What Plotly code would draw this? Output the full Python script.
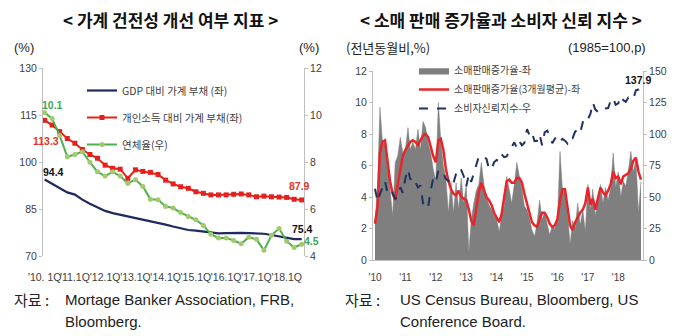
import plotly.graph_objects as go
import pandas as pd

W, H = 680, 336

# ---------------- data ----------------
quarters = pd.date_range('2010-01-01', periods=35, freq='QS')
months = pd.date_range('2010-01-01', periods=106, freq='MS')

gdp_debt = [94.4, 93.0, 91.6, 90.3, 89.6, 88.0, 86.7, 85.5, 84.4, 83.7, 83.2, 82.6,
            82.1, 81.7, 81.0, 80.5, 80.0, 79.4, 78.8, 78.3, 78.1, 77.8, 77.5, 77.2,
            77.3, 77.4, 77.4, 77.3, 77.2, 77.1, 76.7, 76.2, 75.8, 75.4, 75.4]

income_debt = [113.3, 111.8, 109.7, 107.5, 106.0, 104.0, 102.4, 101.2, 99.0, 98.0,
               97.7, 94.8, 97.5, 97.0, 96.7, 96.0, 94.2, 93.0, 92.1, 91.6, 90.5,
               90.0, 89.5, 89.5, 89.5, 89.7, 89.8, 89.5, 88.9, 89.1, 88.9, 88.8,
               88.7, 88.1, 87.9]

delinquency = [10.1, 9.85, 9.13, 8.22, 8.32, 8.44, 7.99, 7.58, 7.40, 7.58, 7.40,
               7.09, 7.25, 6.96, 6.41, 6.39, 6.11, 6.04, 5.85, 5.68, 5.54, 5.30,
               4.93, 4.77, 4.77, 4.66, 4.52, 4.80, 4.71, 4.24, 4.88, 5.17, 4.63,
               4.36, 4.5]

retail_yoy = [2.4, 4.8, 9.7, 7.5, 7.3, 6.0, 4.5, 2.8, 6.2, 6.6, 7.8, 6.8,
              7.0, 8.4, 7.0, 7.5, 7.0, 8.3, 7.0, 8.8, 8.4, 7.4, 6.8, 5.8,
              5.0, 10.0, 7.6, 6.0, 5.2, 3.0, 5.0, 3.0, 4.9, 3.2, 5.2, 3.6,
              4.8, 0.5, 2.5, 3.6, 4.4, 4.8, 6.2, 4.8, 4.0, 3.5, 3.2, 2.8,
              2.6, 1.8, 2.8, 3.4, 5.3, 4.5, 3.6, 4.8, 6.2, 5.3, 4.5, 3.4,
              3.2, 2.6, 1.9, 1.5, 2.3, 3.8, 2.6, 3.0, 2.2, 1.6, 2.2, 2.0,
              2.5, 6.9, 4.5, 4.2, 3.0, 1.0, 2.5, 2.0, 3.6, 2.2, 3.2, 1.8,
              4.8, 3.2, 4.5, 2.8, 3.8, 4.8, 3.6, 4.6, 3.8, 4.6, 6.8, 4.6,
              5.6, 4.0, 5.0, 4.7, 5.6, 6.9, 5.6, 6.4, 3.0, 5.0]

retail_3m = [2.3, 3.4, 6.8, 7.5, 7.6, 6.4, 5.0, 4.2, 3.8, 4.8, 5.8, 6.6,
             7.0, 7.3, 7.5, 7.6, 7.5, 7.3, 7.6, 7.9, 8.0, 7.8, 7.2, 6.6,
             6.2, 7.6, 7.7, 7.0, 5.8, 5.0, 4.5, 4.2, 4.1, 4.4, 4.0, 3.9,
             3.8, 3.2, 2.5, 2.2, 3.3, 4.3, 4.9, 4.5, 4.0, 3.8, 3.5, 3.0,
             2.7, 2.4, 2.9, 4.0, 5.0, 5.1, 4.9, 4.9, 5.2, 5.2, 4.9, 4.2,
             3.6, 3.0, 2.4, 2.2, 2.1, 2.6, 3.0, 3.0, 2.7, 2.3, 2.1, 2.2,
             2.6, 3.8, 4.5, 4.5, 3.4, 2.2, 1.9, 2.4, 2.7, 3.0, 3.2, 3.6,
             4.6, 3.5, 3.9, 3.2, 3.9, 4.6, 4.3, 4.1, 4.4, 4.8, 5.6, 5.2,
             5.3, 4.8, 5.3, 5.4, 5.5, 5.8, 6.3, 6.5, 5.6, 5.1]

confidence = [56.5, 46.4, 52.3, 57.7, 62.7, 52.9, 51.0, 53.2, 48.6, 49.9, 57.8, 53.3,
              64.8, 72.0, 63.8, 66.0, 61.7, 57.6, 59.2, 45.2, 46.4, 42.0, 55.2, 64.8,
              61.5, 71.6, 69.5, 68.7, 64.4, 62.7, 65.4, 61.3, 68.4, 73.1, 71.5, 66.7,
              58.4, 68.0, 61.9, 69.0, 76.2, 82.1, 81.0, 81.8, 80.2, 72.4, 72.0, 77.5,
              79.4, 78.3, 83.9, 81.7, 82.2, 86.4, 90.3, 93.4, 89.0, 94.1, 91.0, 93.1,
              103.8, 98.8, 101.4, 94.3, 94.6, 99.8, 91.0, 101.3, 102.6, 99.1, 92.6, 96.3,
              97.8, 94.0, 96.1, 94.7, 92.4, 97.4, 96.7, 101.8, 103.5, 100.8, 109.4, 113.3,
              111.6, 116.1, 124.9, 119.4, 117.6, 117.3, 120.0, 120.4, 120.6, 126.2, 128.6, 123.1,
              124.3, 130.0, 127.0, 125.6, 128.8, 127.1, 127.9, 134.7, 135.3, 137.9]

year_ticks = pd.date_range('2010-01-01', '2018-01-01', freq='YS')
q_ticktext = ["'10. 1Q", "'11.1Q", "'12.1Q", "'13.1Q", "'14.1Q", "'15.1Q",
              "'16.1Q", "'17.1Q", "'18.1Q"]
m_ticktext = ["'10", "'11", "'12", "'13", "'14", "'15", "'16", "'17", "'18"]

# ---------------- helpers ----------------
def px(x):
    return x / W

def py(y):
    return 1 - y / H

FONT = "Liberation Sans, Arial, Noto Sans CJK KR, sans-serif"
KFONT = "Noto Sans CJK KR, sans-serif"
AX = '#bfbfbf'
TXT = '#404040'

fig = go.Figure()

# ---------------- left chart ----------------
fig.add_trace(go.Scatter(
    x=quarters, y=gdp_debt, mode='lines', name='GDP 대비 가계 부채 (좌)',
    line=dict(color='#1c2a5e', width=2.2), xaxis='x', yaxis='y',
    legend='legend', legendgroup='a'))
fig.add_trace(go.Scatter(
    x=quarters, y=income_debt, mode='lines+markers', name='개인소득 대비 가계 부채(좌)',
    line=dict(color='#e4211c', width=2),
    marker=dict(symbol='square', size=5, color='#e4211c'),
    xaxis='x', yaxis='y', legend='legend', legendgroup='b'))
fig.add_trace(go.Scatter(
    x=quarters, y=delinquency, mode='lines+markers', name='연체율(우)',
    line=dict(color='#4cb050', width=2),
    marker=dict(symbol='circle', size=5, color='#a3c96b'),
    xaxis='x', yaxis='y2', legend='legend', legendgroup='c'))

# ---------------- right chart ----------------
fig.add_trace(go.Scatter(
    x=months, y=retail_yoy, mode='lines', fill='tozeroy', fillcolor='#7f7f7f',
    line=dict(color='#7f7f7f', width=0.5), name='소매판매증가율-좌',
    xaxis='x2', yaxis='y3', legend='legend2'))
fig.add_trace(go.Scatter(
    x=months, y=retail_3m, mode='lines', name='소매판매증가율(3개월평균)-좌',
    line=dict(color='#e8262a', width=2.5), xaxis='x2', yaxis='y3', legend='legend2'))
fig.add_trace(go.Scatter(
    x=months, y=confidence, mode='lines', name='소비자신뢰지수-우',
    line=dict(color='#1f3260', width=2, dash='dash'), xaxis='x2', yaxis='y4',
    legend='legend2'))

tickfont = dict(family=FONT, size=10.5, color=TXT)

fig.update_layout(
    template='none',
    width=W, height=H, margin=dict(l=0, r=0, t=0, b=0, pad=0),
    paper_bgcolor='white', plot_bgcolor='white',
    font=dict(family=FONT, color=TXT),
    xaxis=dict(domain=[px(43), px(304)], anchor='y', type='date', automargin=False,
               range=['2009-12-12', '2018-07-29'], tickvals=year_ticks,
               ticktext=q_ticktext, showline=False, showgrid=False,
               zeroline=False, ticks='', tickangle=0, ticklabelstandoff=13,
               tickfont=dict(family=FONT, size=10.5, color=TXT)),
    yaxis=dict(domain=[py(256), py(68)], anchor='x', range=[70, 130], automargin=False,
               tickvals=[70, 85, 100, 115, 130], showline=True, linecolor=AX,
               ticks='outside', ticklen=3, tickcolor=AX, showgrid=False,
               zeroline=False, tickfont=tickfont),
    yaxis2=dict(overlaying='y', side='right', anchor='x', range=[4, 12], automargin=False,
                tickvals=[4, 6, 8, 10, 12], showline=True, linecolor=AX,
                ticks='outside', ticklen=3, tickcolor=AX, showgrid=False,
                zeroline=False, tickfont=tickfont),
    xaxis2=dict(domain=[px(373), px(643)], anchor='y3', type='date', automargin=False,
                range=['2009-12-08', '2018-10-25'], tickvals=year_ticks,
                ticktext=m_ticktext, showline=True, linecolor=AX, showgrid=False,
                zeroline=False, ticks='', tickangle=0, ticklabelstandoff=8,
                tickfont=dict(family=FONT, size=10, color=TXT)),
    yaxis3=dict(domain=[py(260), py(71)], anchor='x2', range=[0, 12], automargin=False,
                tickvals=[0, 2, 4, 6, 8, 10, 12], showline=True, linecolor=AX,
                ticks='outside', ticklen=3, tickcolor=AX, showgrid=False,
                zeroline=False, tickfont=tickfont),
    yaxis4=dict(overlaying='y3', side='right', anchor='x2', range=[0, 150], automargin=False,
                tickvals=[0, 25, 50, 75, 100, 125, 150], showline=True, linecolor=AX,
                ticks='outside', ticklen=3, tickcolor=AX, showgrid=False,
                zeroline=False, tickfont=tickfont),
    legend=dict(x=px(82), y=py(76), xanchor='left', yanchor='top',
                bgcolor='rgba(0,0,0,0)', tracegroupgap=8, traceorder='grouped',
                font=dict(family=KFONT, size=10.5, color=TXT)),
    legend2=dict(x=px(414), y=py(56), xanchor='left', yanchor='top',
                 bgcolor='rgba(0,0,0,0)', tracegroupgap=0,
                 font=dict(family=KFONT, size=10, color=TXT)),
)

ann = []
def A(text, x, y, size, color='#222', bold=False, xanchor='center', family=KFONT):
    t = f'<b>{text}</b>' if bold else text
    ann.append(dict(text=t, x=px(x), y=py(y), xref='paper', yref='paper',
                    xanchor=xanchor, yanchor='middle', showarrow=False,
                    font=dict(family=family, size=size, color=color)))

# titles & units
A('&lt; 가계 건전성 개선 여부 지표 &gt;', 170, 19, 17, '#111', bold=True)
A('&lt; 소매 판매 증가율과 소비자 신뢰 지수 &gt;', 501, 19, 17, '#111', bold=True)
A('(%)', 12, 48, 13, '#222', xanchor='left', family=FONT)
A('(%)', 297, 48, 13, '#222', xanchor='left', family=FONT)
A('(전년동월비,%)', 344, 48, 13, '#222', xanchor='left')
A('(1985=100,p)', 566, 48, 13, '#222', xanchor='left', family=FONT)

# sources
A('자료 :', 12, 299, 15, '#222', xanchor='left')
A('Mortage Banker Association, FRB,', 63, 299, 15, '#222', xanchor='left', family=FONT)
A('Bloomberg.', 63, 321, 15, '#222', xanchor='left', family=FONT)
A('자료 :', 343, 299, 15, '#222', xanchor='left')
A('US Census Bureau, Bloomberg, US', 398, 299, 15, '#222', xanchor='left', family=FONT)
A('Conference Board.', 398, 321, 15, '#222', xanchor='left', family=FONT)

# data labels anchored to data points
def D(text, x, y, yref, xs, ys, color):
    ann.append(dict(text=f'<b>{text}</b>', x=x, y=y, xref='x' if yref in ('y', 'y2') else 'x2',
                    yref=yref, xshift=xs, yshift=ys, showarrow=False,
                    font=dict(family=FONT, size=10.5, color=color)))

D(f'{delinquency[0]:.1f}', quarters[0], delinquency[0], 'y2', 8, 8, '#3aa655')
D(f'{income_debt[0]:.1f}', quarters[0], income_debt[0], 'y', 1, -21, '#e4332a')
D(f'{gdp_debt[0]:.1f}', quarters[0], gdp_debt[0], 'y', 9, 8, '#111')
D(f'{income_debt[-1]:.1f}', quarters[-1], income_debt[-1], 'y', -2, 14, '#e4332a')
D(f'{gdp_debt[-1]:.1f}', quarters[-1], gdp_debt[-1], 'y', 1, 10, '#111')
D(f'{delinquency[-1]:.1f}', quarters[-1], delinquency[-1], 'y2', 10, 3, '#3aa655')
D(f'{confidence[-1]:.1f}', months[-1], confidence[-1], 'y4', -3, 6, '#111')

fig.update_layout(annotations=ann)
fig.write_html('out.html')
